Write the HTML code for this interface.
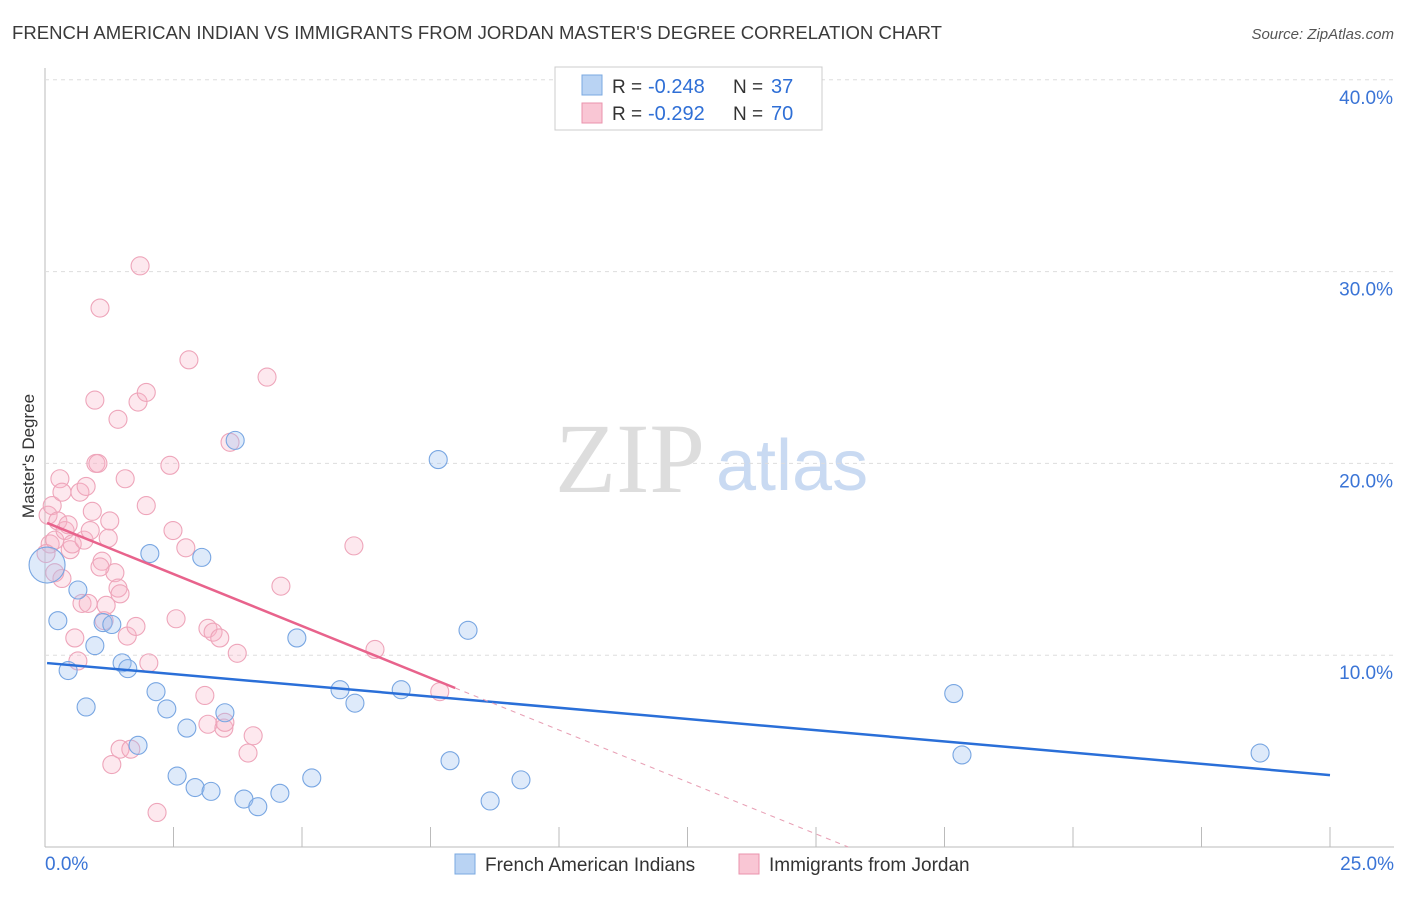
<!DOCTYPE html>
<html><head><meta charset="utf-8"><style>
body{margin:0;background:#fff;font-family:"Liberation Sans",sans-serif;}
</style></head><body>
<svg id="c" width="1406" height="892" xmlns="http://www.w3.org/2000/svg">
<text x="12" y="39" font-size="18" fill="#3a3a3a" textLength="930" lengthAdjust="spacingAndGlyphs">FRENCH AMERICAN INDIAN VS IMMIGRANTS FROM JORDAN MASTER'S DEGREE CORRELATION CHART</text>
<text x="1394" y="39" font-size="15" fill="#555" font-style="italic" text-anchor="end">Source: ZipAtlas.com</text>
<text x="34" y="456" font-size="17" fill="#333" text-anchor="middle" transform="rotate(-90 34 456)">Master's Degree</text>
<text x="555" y="492" font-size="100" fill="#ddd" font-family="Liberation Serif,serif">ZIP</text>
<text x="716" y="490" font-size="72" fill="#c9daf2">atlas</text>
<g id="grid"></g><g id="pts"></g><g id="lines"></g>
<g>
<rect x="555" y="67" width="267" height="63" fill="#fff" stroke="#ccc"/>
<rect x="582" y="75" width="20" height="20" fill="#b9d3f3" stroke="#7aa8e0"/>
<rect x="582" y="103" width="20" height="20" fill="#f9c6d4" stroke="#ea93ac"/>
<g font-size="19" fill="#333">
<text x="612" y="93">R =</text><text x="648" y="93" fill="#2f6fd6" font-size="20">-0.248</text>
<text x="733" y="93">N =</text><text x="771" y="93" fill="#2f6fd6" font-size="20">37</text></g>
<g font-size="19" fill="#333">
<text x="612" y="120">R =</text><text x="648" y="120" fill="#2f6fd6" font-size="20">-0.292</text>
<text x="733" y="120">N =</text><text x="771" y="120" fill="#2f6fd6" font-size="20">70</text></g>
</g>
<g>
<rect x="455" y="854" width="20" height="20" fill="#b9d3f3" stroke="#7aa8e0"/>
<text x="485" y="871" font-size="19" fill="#333">French American Indians</text>
<rect x="739" y="854" width="20" height="20" fill="#f9c6d4" stroke="#ea93ac"/>
<text x="769" y="871" font-size="19" fill="#333">Immigrants from Jordan</text>
</g>
</svg>
<script>
const yTicks=[10,20,30,40];
const yTickLabels=["10.0%","20.0%","30.0%","40.0%"];
const xTickLabels=["0.0%","25.0%"];
const blueX=[0.04,0.25,0.45,0.64,0.8,0.97,1.13,1.3,1.5,1.61,1.81,2.04,2.16,2.37,2.57,2.76,2.92,3.05,3.23,3.5,3.7,3.87,4.14,4.57,4.9,5.19,5.74,6.03,6.93,7.65,7.88,8.23,8.66,9.26,17.68,17.84,23.64];
const blueY=[14.7,11.8,9.2,13.4,7.3,10.5,11.7,11.6,9.6,9.3,5.3,15.3,8.1,7.2,3.7,6.2,3.1,15.1,2.9,7.0,21.2,2.5,2.1,2.8,10.9,3.6,8.2,7.5,8.2,20.2,4.5,11.3,2.4,3.5,8.0,4.8,4.9];
const pinkX=[0.06,0.1,0.14,0.19,0.25,0.29,0.33,0.39,0.45,0.49,0.53,0.58,0.64,0.68,0.72,0.76,0.8,0.84,0.88,0.92,0.97,0.99,1.03,1.07,1.11,1.15,1.19,1.23,1.26,1.3,1.36,1.42,1.46,1.46,1.56,1.6,1.67,1.77,1.81,1.85,1.97,1.97,2.02,2.18,2.43,2.49,2.55,2.74,2.8,3.11,3.17,3.17,3.27,3.4,3.48,3.5,3.6,3.74,3.95,4.05,4.32,4.59,6.01,6.42,7.68,1.42,1.07,0.33,0.19,0.02];
const pinkY=[17.3,15.8,17.8,16.0,17.0,19.2,18.5,16.5,16.8,15.5,15.8,10.9,9.7,18.5,12.7,16.0,18.8,12.7,16.5,17.5,23.3,20.0,20.0,28.1,14.9,11.8,12.6,16.1,17.0,4.3,14.3,13.5,13.2,5.1,19.2,11.0,5.1,11.5,23.2,30.3,23.7,17.8,9.6,1.8,19.9,16.5,11.9,15.6,25.4,7.9,11.4,6.4,11.2,10.9,6.2,6.5,21.1,10.1,4.9,5.8,24.5,13.6,15.7,10.3,8.1,22.3,14.6,14.0,14.3,15.3];
const blueFit=[9.59,3.75];
const pinkFit=[16.94,-1.084];
const pinkSolidEnd=7.98;
const X=v=>45+v*51.4, Y=v=>847-v*19.18;
const NS="http://www.w3.org/2000/svg";
function mk(p,t,a){const e=document.createElementNS(NS,t);for(const k in a)e.setAttribute(k,a[k]);p.appendChild(e);return e;}
const grid=document.getElementById('grid');
mk(grid,'line',{x1:45,y1:68,x2:45,y2:847,stroke:'#bbb'});
mk(grid,'line',{x1:45,y1:847,x2:1394,y2:847,stroke:'#bbb'});
yTicks.forEach((t,i)=>{
 const l=mk(grid,'line',{x1:45,y1:Y(t),x2:1394,y2:Y(t),stroke:'#ddd','stroke-dasharray':'4,4'});
 
 
 const tx=mk(grid,'text',{x:1393,y:Y(t)+24,'font-size':19,fill:'#3a74d6','text-anchor':'end'});
 tx.textContent=yTickLabels[i];
 
 
});
for(let i=0;i<=10;i++){const l=mk(grid,'line',{x1:X(i*2.5),y1:827,x2:X(i*2.5),y2:847,stroke:'#bbb'});
 
 }
[[45,'start'],[1394,'end']].forEach((p,i)=>{const t=mk(grid,'text',{x:p[0],y:870,'font-size':19,fill:'#3a74d6','text-anchor':p[1]});t.textContent=xTickLabels[i];
 
 });
const pts=document.getElementById('pts');
pinkX.forEach((x,i)=>{const c=mk(pts,'circle',{cx:X(x),cy:Y(pinkY[i]),r:9,fill:'rgba(247,178,198,0.3)',stroke:'#eea5ba','stroke-width':1.1});
 
 });
blueX.forEach((x,i)=>{const c=mk(pts,'circle',{cx:X(x),cy:Y(blueY[i]),r:i==0?18:9,fill:'rgba(160,196,240,0.35)',stroke:'#78a6e2','stroke-width':1.1});
 
 });
const ln=document.getElementById('lines');
let l=mk(ln,'line',{x1:X(0.04),y1:Y(blueFit[0]),x2:X(25),y2:Y(blueFit[1]),stroke:'#2a6fd8','stroke-width':2.5});


const pf=x=>pinkFit[0]+pinkFit[1]*x;
l=mk(ln,'line',{x1:X(0.04),y1:Y(pf(0.04)),x2:X(pinkSolidEnd),y2:Y(pf(pinkSolidEnd)),stroke:'#e8638c','stroke-width':2.5});


const z=-pinkFit[0]/pinkFit[1];
l=mk(ln,'line',{x1:X(pinkSolidEnd),y1:Y(pf(pinkSolidEnd)),x2:X(z),y2:Y(0),stroke:'#e8a0b5','stroke-width':1,'stroke-dasharray':'5,5'});


</script>
</body></html>
